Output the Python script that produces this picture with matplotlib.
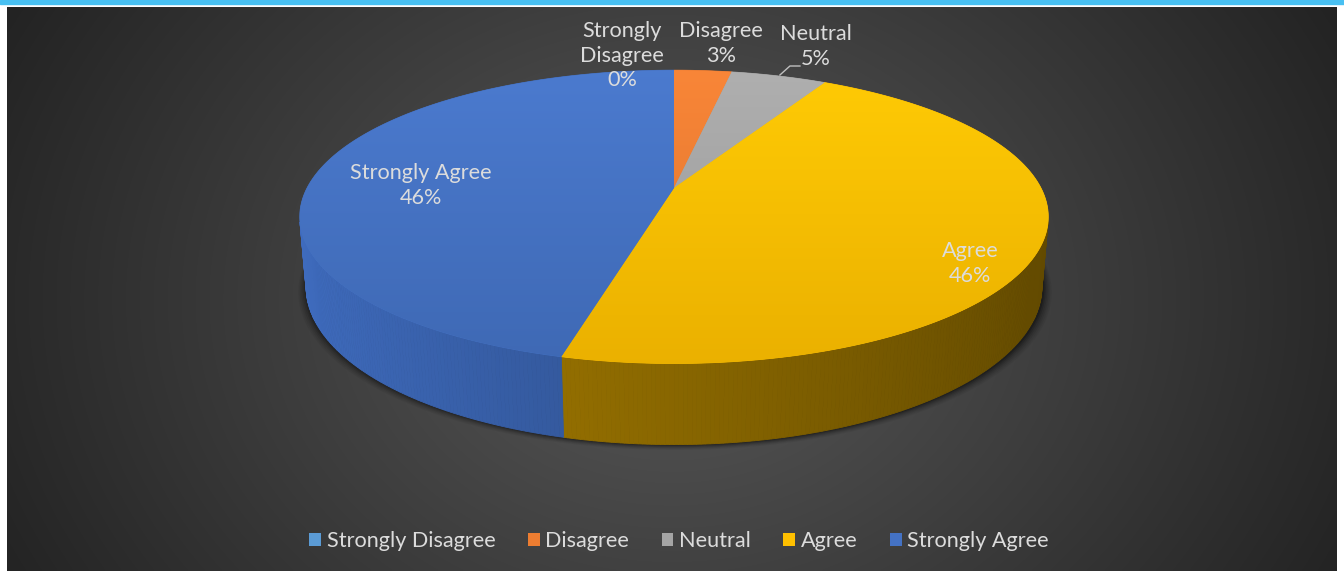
import numpy as np
import matplotlib
matplotlib.use("Agg")
import matplotlib.pyplot as plt
from matplotlib.patches import Polygon, Rectangle, Patch
from matplotlib.lines import Line2D

# ---------------- data ----------------
categories = ["Strongly Disagree", "Disagree", "Neutral", "Agree", "Strongly Agree"]
values = [0, 3, 5, 46, 46]
pct_labels = ["0%", "3%", "5%", "46%", "46%"]

# ---------------- styles ----------------
top_colors = ["#5B9BD5", "#ED7D31", "#A5A5A5", "#FFC000", "#4472C4"]
text_color = "#DCDCDC"
FONT = "Lato"
FS = 15.6

W, H = 1344, 571
fig = plt.figure(figsize=(W / 100, H / 100), dpi=100)
ax = fig.add_axes([0, 0, 1, 1])
ax.set_xlim(0, W)
ax.set_ylim(H, 0)
ax.axis("off")
fig.patch.set_facecolor("white")

# frame: cyan band and dark radial-gradient chart area
ax.add_patch(Rectangle((0, 0), W, 3.5, color="#48C0F2", zorder=0))
x0, x1, y0, y1 = 7, 1337, 7.5, H
gx = np.linspace(x0, x1, 400)
gy = np.linspace(y0, y1, 200)
GX, GY = np.meshgrid(gx, gy)
r = np.sqrt(((GX - 672) / 640) ** 2 + ((GY - 300) / 520) ** 2)
v = np.clip(0.35 - 0.18 * r, 0.14, 1)
bg = np.dstack([v, v, v])
ax.imshow(bg, extent=(x0, x1, y1, y0), aspect="auto", zorder=1, interpolation="bilinear")

# ---------------- 3D pie projection ----------------
cx, cy, s = 674, 188, 367
phi = np.radians(22.6)
D = 4.7
h = 0.205
sphi, cphi = np.sin(phi), np.cos(phi)


def proj(theta, y, rad=1.0):
    x = rad * np.sin(theta)
    z = -rad * np.cos(theta)
    depth = D - y * sphi - z * cphi
    f = D / depth
    X = cx + s * x * f
    Y = cy - s * (y * cphi - z * sphi) * f
    return X, Y


total = float(sum(values))
bounds = np.concatenate([[0], np.cumsum(values)]) / total * 2 * np.pi

# visible side range
tv = np.arccos(-1.0 / (D * cphi))
vis_lo, vis_hi = tv, 2 * np.pi - tv

# shadow beneath the pie
tt = np.linspace(0, 2 * np.pi, 300)
bx, by = proj(tt, -h)
for i, a in enumerate([0.05, 0.06, 0.08, 0.10, 0.14, 0.2]):
    off = 6 - i
    sx = cx + (bx - cx) * (1 + 0.004 * off) + 1
    sy = by + off * 0.9
    ax.add_patch(Polygon(np.column_stack([sx, sy]), closed=True, color="black",
                         alpha=a, lw=0, zorder=3))


def shade(base, theta):
    k = 1 - 0.45 * (np.sin(theta) + 1) / 2
    rgb = np.array(matplotlib.colors.to_rgb(base))
    return tuple(np.clip(rgb * k, 0, 1))


side_base = {0: "#5a96d0", 1: "#d06a2a", 2: "#9a9a9a", 3: "#b08400", 4: "#3f6cbf"}

# sides
for i, val in enumerate(values):
    a0, a1 = bounds[i], bounds[i + 1]
    lo, hi = max(a0, vis_lo), min(a1, vis_hi)
    if hi <= lo:
        continue
    n = max(2, int((hi - lo) / 0.01))
    th = np.linspace(lo, hi, n + 1)
    for j in range(n):
        t0, t1 = th[j], th[j + 1]
        X0t, Y0t = proj(t0, 0)
        X1t, Y1t = proj(t1, 0)
        X0b, Y0b = proj(t0, -h)
        X1b, Y1b = proj(t1, -h)
        col = shade(side_base[i], (t0 + t1) / 2)
        ax.add_patch(Polygon([(X0t, Y0t), (X1t, Y1t), (X1b, Y1b), (X0b, Y0b)],
                             closed=True, facecolor=col, edgecolor=col, lw=0.6, zorder=4))

# top faces with soft vertical gradient
grad = np.linspace(0, 1, 256)[:, None]
for i, val in enumerate(values):
    a0, a1 = bounds[i], bounds[i + 1]
    if a1 - a0 <= 0:
        continue
    th = np.linspace(a0, a1, max(3, int((a1 - a0) / 0.005)))
    X, Y = proj(th, 0)
    Xc, Yc = proj(0.0, 0, rad=0.0)
    pts = np.column_stack([np.r_[Xc, X], np.r_[Yc, Y]])
    poly = Polygon(pts, closed=True, facecolor=top_colors[i], edgecolor=top_colors[i],
                   lw=0.5, zorder=5)
    ax.add_patch(poly)
    rgb = np.array(matplotlib.colors.to_rgb(top_colors[i]))
    light = np.clip(rgb * 1.03 + 0.02, 0, 1)
    dark = np.clip(rgb * 0.92, 0, 1)
    img = light[None, None, :] * (1 - grad[:, :, None]) + dark[None, None, :] * grad[:, :, None]
    img = np.repeat(img, 2, axis=1)
    im = ax.imshow(img, extent=(300, 1050, 365, 68), aspect="auto", zorder=6,
                   interpolation="bilinear")
    im.set_clip_path(poly)

# ---------------- labels ----------------
lab_pos = [(622, 31), (721, 31), (816, 34), (970, 251), (421, 173)]
for i, cat in enumerate(categories):
    name = cat.replace("Strongly Disagree", "Strongly\nDisagree")
    if i == 2:
        ax.text(lab_pos[i][0], lab_pos[i][1], name, ha="center", va="center",
                fontsize=FS, family=FONT, color=text_color, zorder=10)
        ax.text(lab_pos[i][0], lab_pos[i][1] + 25, pct_labels[i], ha="center", va="center",
                fontsize=FS, family=FONT, color=text_color, zorder=10)
        mid = (bounds[i] + bounds[i + 1]) / 2
        mx, my = proj(mid, 0)
        ax.add_line(Line2D([mx + 1, mx + 11, mx + 21], [my - 1, my - 10, my - 10],
                           color="#BFBFBF", lw=1.0, zorder=10))
        continue
    lines = name.split("\n") + [pct_labels[i]]
    for k, ln in enumerate(lines):
        ax.text(lab_pos[i][0], lab_pos[i][1] + 24.5 * k, ln, ha="center", va="center",
                fontsize=FS, family=FONT, color=text_color, zorder=10)

# ---------------- legend ----------------
handles = [Patch(facecolor=c, edgecolor="none") for c in top_colors]
leg = ax.legend(handles, categories, loc="center", bbox_to_anchor=(679 / W, 1 - 541 / H),
                bbox_transform=fig.transFigure, ncol=5, frameon=False,
                prop={"family": FONT, "size": FS}, labelcolor=text_color,
                handlelength=0.55, handleheight=0.55, handletextpad=0.25,
                columnspacing=1.5)
leg.set_zorder(10)

fig.savefig("out.png", dpi=100, facecolor="white")
